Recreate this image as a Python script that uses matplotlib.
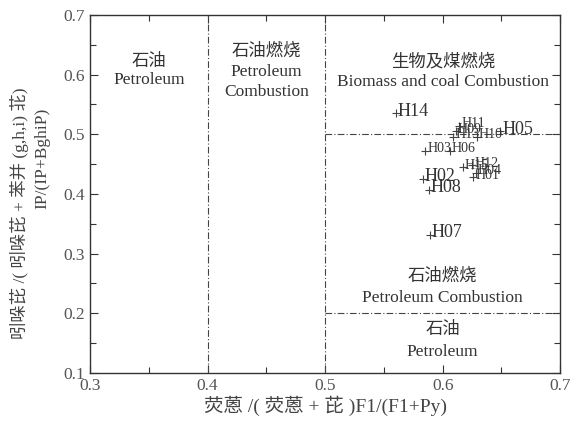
import matplotlib
matplotlib.use("Agg")
import matplotlib.pyplot as plt
from matplotlib.ticker import MultipleLocator

plt.rcParams['font.family'] = ['Liberation Serif', 'Noto Sans CJK SC']
plt.rcParams['axes.unicode_minus'] = False

# sample ratios
sites = ["H01", "H02", "H03", "H04", "H05", "H06", "H07", "H08",
         "H09", "H10", "H11", "H12", "H13", "H14", "H15"]
fl_ratio = [0.626, 0.583, 0.585, 0.628, 0.649, 0.606, 0.589, 0.588,
            0.611, 0.629, 0.614, 0.625, 0.609, 0.560, 0.617]
ip_ratio = [0.428, 0.425, 0.472, 0.435, 0.505, 0.472, 0.332, 0.407,
            0.505, 0.496, 0.514, 0.448, 0.496, 0.535, 0.445]
big_labels = ["H02", "H05", "H07", "H08", "H14"]

fig = plt.figure(figsize=(5.74, 4.26), dpi=100)
ax = fig.add_axes([0.157, 0.1244, 0.819, 0.8406])

ax.scatter(fl_ratio, ip_ratio, marker="+", s=30, c="#444444", linewidths=0.8, zorder=3)
for name, x, y in zip(sites, fl_ratio, ip_ratio):
    big = name in big_labels
    ax.annotate(name, (x, y), xytext=(1.5, 1.5), textcoords="offset points",
                fontsize=13 if big else 10, color="#333333",
                ha="left", va="center")

# source boundaries
ls = (0, (6, 2, 1, 2))
ax.axvline(0.4, color="#444444", lw=0.8, ls=ls)
ax.axvline(0.5, color="#444444", lw=0.8, ls=ls)
ax.plot([0.5, 0.7], [0.5, 0.5], color="#444444", lw=0.8, ls=ls)
ax.plot([0.5, 0.7], [0.2, 0.2], color="#444444", lw=0.8, ls=ls)

tc = "#333333"
fs = 12.5
ax.text(0.35, 0.621, "石油", ha="center", va="center", fontsize=fs, color=tc)
ax.text(0.35, 0.591, "Petroleum", ha="center", va="center", fontsize=fs, color=tc)
ax.text(0.45, 0.638, "石油燃烧", ha="center", va="center", fontsize=fs, color=tc)
ax.text(0.45, 0.605, "Petroleum", ha="center", va="center", fontsize=fs, color=tc)
ax.text(0.45, 0.571, "Combustion", ha="center", va="center", fontsize=fs, color=tc)
ax.text(0.6, 0.621, "生物及煤燃烧", ha="center", va="center", fontsize=fs, color=tc)
ax.text(0.6, 0.588, "Biomass and coal Combustion", ha="center", va="center", fontsize=fs, color=tc)
ax.text(0.6, 0.261, "石油燃烧", ha="center", va="center", fontsize=fs, color=tc)
ax.text(0.6, 0.226, "Petroleum Combustion", ha="center", va="center", fontsize=fs, color=tc)
ax.text(0.6, 0.172, "石油", ha="center", va="center", fontsize=fs, color=tc)
ax.text(0.6, 0.135, "Petroleum", ha="center", va="center", fontsize=fs, color=tc)

ax.set_xlim(0.3, 0.7)
ax.set_ylim(0.1, 0.7)
ax.xaxis.set_major_locator(MultipleLocator(0.1))
ax.xaxis.set_minor_locator(MultipleLocator(0.05))
ax.yaxis.set_major_locator(MultipleLocator(0.1))
ax.yaxis.set_minor_locator(MultipleLocator(0.05))
ax.tick_params(which="both", direction="in", top=True, right=True, colors="#333333",
               labelsize=12.5, labelcolor="#555555")
ax.tick_params(which="major", length=6, width=0.8)
ax.tick_params(which="minor", length=4, width=0.8)
ax.xaxis.set_major_formatter(plt.FuncFormatter(lambda v, p: f"{v:.1f}"))
ax.yaxis.set_major_formatter(plt.FuncFormatter(lambda v, p: f"{v:.1f}"))
for sp in ax.spines.values():
    sp.set_linewidth(1.0)
    sp.set_color("#333333")

ax.set_xlabel("荧蒽 /( 荧蒽 + 芘 )F1/(F1+Py)", fontsize=14, color="#444444", labelpad=1)
# y label is two separate lines, not centred on each other in the original
fig.text(0.034, 0.5, "吲哚芘 /( 吲哚芘 + 苯并 (g,h,i) 苝)", rotation=90,
         ha="center", va="center", fontsize=12.5, color="#444444")
fig.text(0.073, 0.629, "IP/(IP+BghiP)", rotation=90,
         ha="center", va="center", fontsize=12.5, color="#444444")

fig.savefig("out.png", dpi=100)
